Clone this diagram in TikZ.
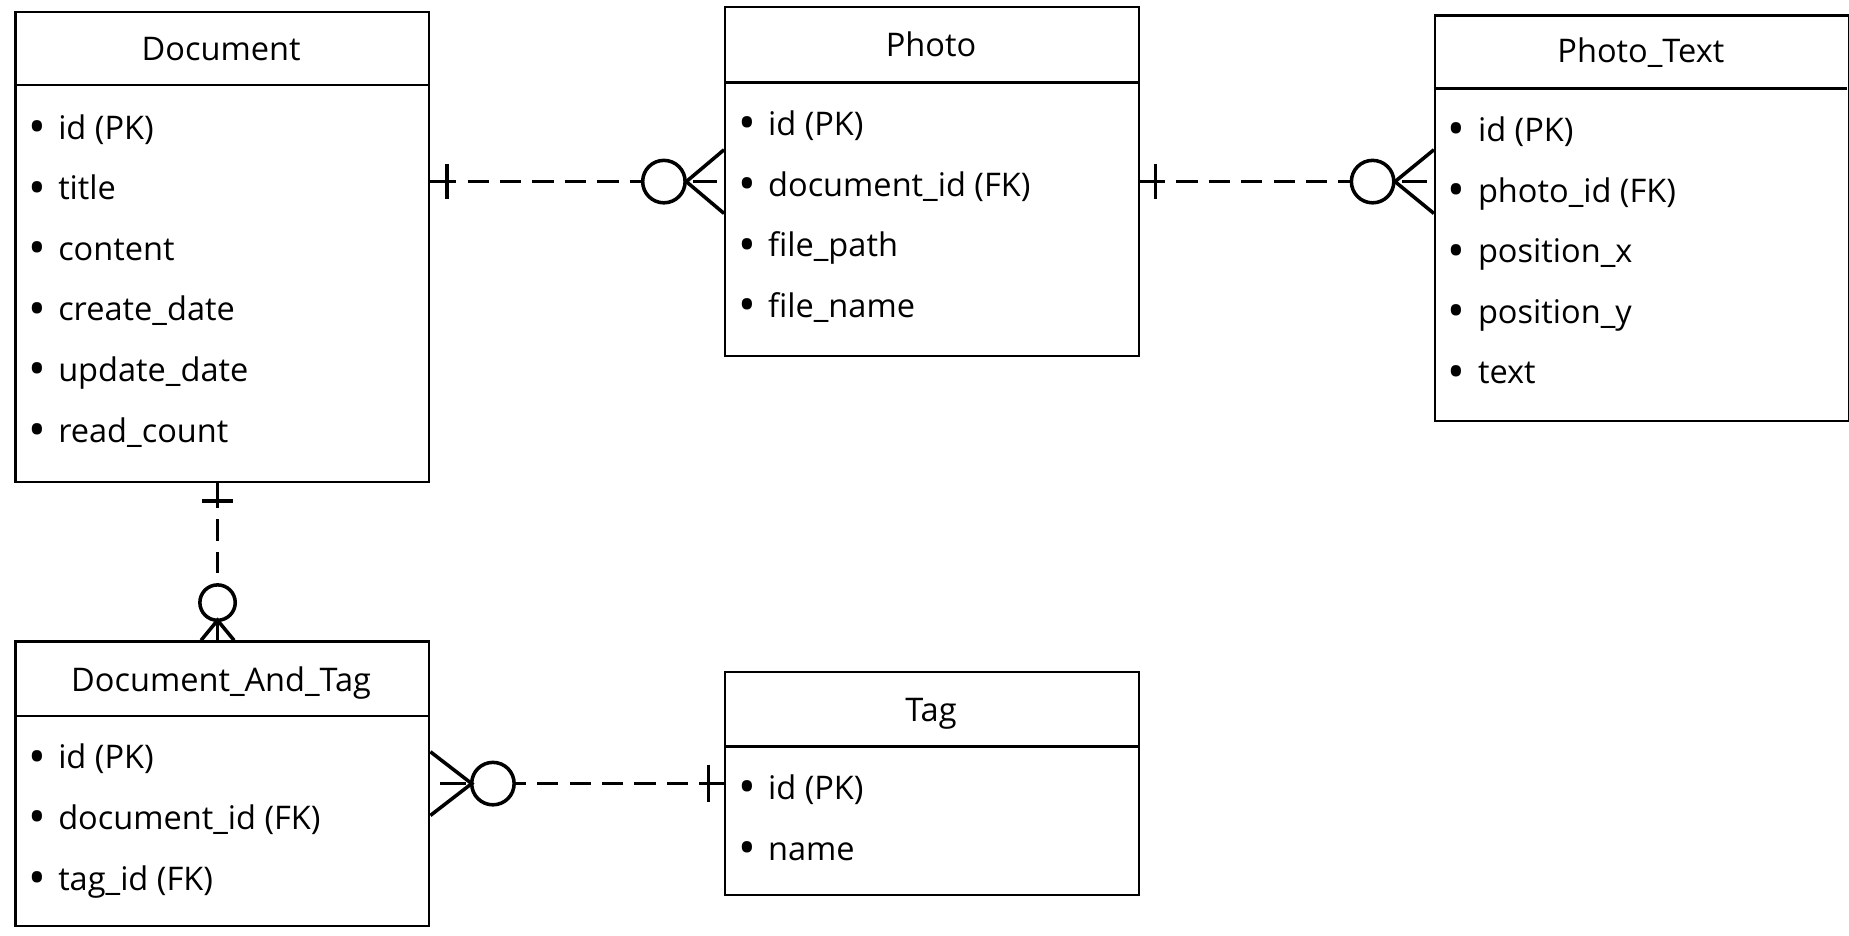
\documentclass[tikz,border=0pt]{standalone}
\usepackage{fontspec}
\setmainfont{Open Sans}
\usetikzlibrary{calc}
\newcommand{\bul}{\makebox[18pt]{\raisebox{-0.25ex}{\scalebox{1.45}{•}}}}
\tikzset{
  ent/.style={draw, line width=1pt, minimum width=175.5pt, anchor=north west, inner sep=0pt},
  sep/.style={line width=1pt},
  hdr/.style={anchor=base, inner sep=0pt, font=\fontsize{13.8}{16}\selectfont},
  itm/.style={anchor=base west, inner sep=0pt, font=\fontsize{13.8}{16}\selectfont},
  rel/.style={line width=1.5pt},
  reld/.style={rel, dash pattern=on 9pt off 4.75pt, dash phase=9pt},
}
\begin{document}
\begin{tikzpicture}[x=0.5pt,y=-0.5pt]
\useasboundingbox (0,0) rectangle (1568,793);

% ---------- Document
\node[ent, minimum height=199.5pt] (doc) at (12,9) {};
\draw[sep] (12,72) -- (363,72);
\node[hdr] (docH) at (187.5,51) {Document};
\node[itm] (doc1) at (13,118) {\bul id (PK)};
\node[itm] (doc2) at (13,169.4) {\bul title};
\node[itm] (doc3) at (13,220.8) {\bul content};
\node[itm] (doc4) at (13,272.2) {\bul create\_date};
\node[itm] (doc5) at (13,323.6) {\bul update\_date};
\node[itm] (doc6) at (13,375) {\bul read\_count};

% ---------- Photo
\node[ent, minimum height=148pt] (pho) at (614,5) {};
\draw[sep] (614,70) -- (965,70);
\node[hdr] (phoH) at (789.5,48) {Photo};
\node[itm] (pho1) at (615,115) {\bul id (PK)};
\node[itm] (pho2) at (615,166.4) {\bul document\_id (FK)};
\node[itm] (pho3) at (615,217.8) {\bul file\_path};
\node[itm] (pho4) at (615,269.2) {\bul file\_name};

% ---------- Photo_Text
\node[ent, minimum height=172pt] (ptx) at (1216,12) {};
\draw[sep] (1216,75) -- (1566.5,75);
\node[hdr] (ptxH) at (1391.5,53) {Photo\_Text};
\node[itm] (ptx1) at (1217,120) {\bul id (PK)};
\node[itm] (ptx2) at (1217,171.4) {\bul photo\_id (FK)};
\node[itm] (ptx3) at (1217,222.8) {\bul position\_x};
\node[itm] (ptx4) at (1217,274.2) {\bul position\_y};
\node[itm] (ptx5) at (1217,325.6) {\bul text};

% ---------- Document_And_Tag
\node[ent, minimum height=120.5pt] (dat) at (12,543) {};
\draw[sep] (12,607) -- (363,607);
\node[hdr] (datH) at (187.5,586) {Document\_And\_Tag};
\node[itm] (dat1) at (13,652) {\bul id (PK)};
\node[itm] (dat2) at (13,703.4) {\bul document\_id (FK)};
\node[itm] (dat3) at (13,754.8) {\bul tag\_id (FK)};

% ---------- Tag
\node[ent, minimum height=94.5pt] (tag) at (614,569) {};
\draw[sep] (614,633) -- (965,633);
\node[hdr] (tagH) at (789.5,612) {Tag};
\node[itm] (tag1) at (615,678) {\bul id (PK)};
\node[itm] (tag2) at (615,729.4) {\bul name};

% ---------- Document -- Photo
\coordinate (r1a) at (doc.east |- pho.west);
\coordinate (r1b) at (pho.west);
\draw[rel] (r1a) -- ($(r1a)+(22,0)$);
\draw[rel] ($(r1a)+(14,-15)$) -- ($(r1a)+(14,15)$);
\draw[reld] ($(r1a)+(22,0)$) -- ($(r1b)+(-69,0)$);
\draw[rel] ($(r1b)+(-51,0)$) circle[radius=9pt];
\draw[rel] ($(r1b)+(0,-27)$) -- ($(r1b)+(-32,0)$) -- ($(r1b)+(0,27)$);
\draw[rel] ($(r1b)+(-26,0)$) -- ($(r1b)+(-6,0)$);

% ---------- Photo -- Photo_Text
\coordinate (r2a) at (pho.east);
\coordinate (r2b) at (ptx.west |- pho.east);
\draw[rel] (r2a) -- ($(r2a)+(21,0)$);
\draw[rel] ($(r2a)+(13,-15)$) -- ($(r2a)+(13,15)$);
\draw[reld] ($(r2a)+(21,0)$) -- ($(r2b)+(-70,0)$);
\draw[rel] ($(r2b)+(-52,0)$) circle[radius=9pt];
\draw[rel] ($(r2b)+(0,-27)$) -- ($(r2b)+(-33,0)$) -- ($(r2b)+(0,27)$);
\draw[rel] ($(r2b)+(-27,0)$) -- ($(r2b)+(-6,0)$);

% ---------- Tag -- Document_And_Tag
\coordinate (r4a) at (tag.west);
\coordinate (r4b) at (dat.east |- tag.west);
\draw[rel] (r4a) -- ($(r4a)+(-21,0)$);
\draw[rel] ($(r4a)+(-13,-16)$) -- ($(r4a)+(-13,16)$);
\draw[reld] ($(r4a)+(-21,0)$) -- ($(r4b)+(71,0)$);
\draw[rel] ($(r4b)+(53,0)$) circle[radius=9pt];
\draw[rel] ($(r4b)+(0,-27)$) -- ($(r4b)+(35,0)$) -- ($(r4b)+(0,27)$);
\draw[rel] ($(r4b)+(8,0)$) -- ($(r4b)+(30,0)$);

% ---------- Document -- Document_And_Tag
\coordinate (r3a) at ($(doc.south)+(-4,0)$);
\coordinate (r3b) at ($(dat.north)+(-4,0)$);
\draw[rel] (r3a) -- ($(r3a)+(0,21)$);
\draw[rel] ($(r3a)+(-13,15)$) -- ($(r3a)+(13,15)$);
\draw[reld] ($(r3a)+(0,21)$) -- ($(r3b)+(0,-47)$);
\draw[rel] ($(r3b)+(0,-32)$) circle[radius=7.5pt];
\draw[rel] ($(r3b)+(-14,0)$) -- ($(r3b)+(0,-17)$) -- ($(r3b)+(14,0)$);
\draw[rel] ($(r3b)+(0,-17)$) -- (r3b);
\end{tikzpicture}
\end{document}
